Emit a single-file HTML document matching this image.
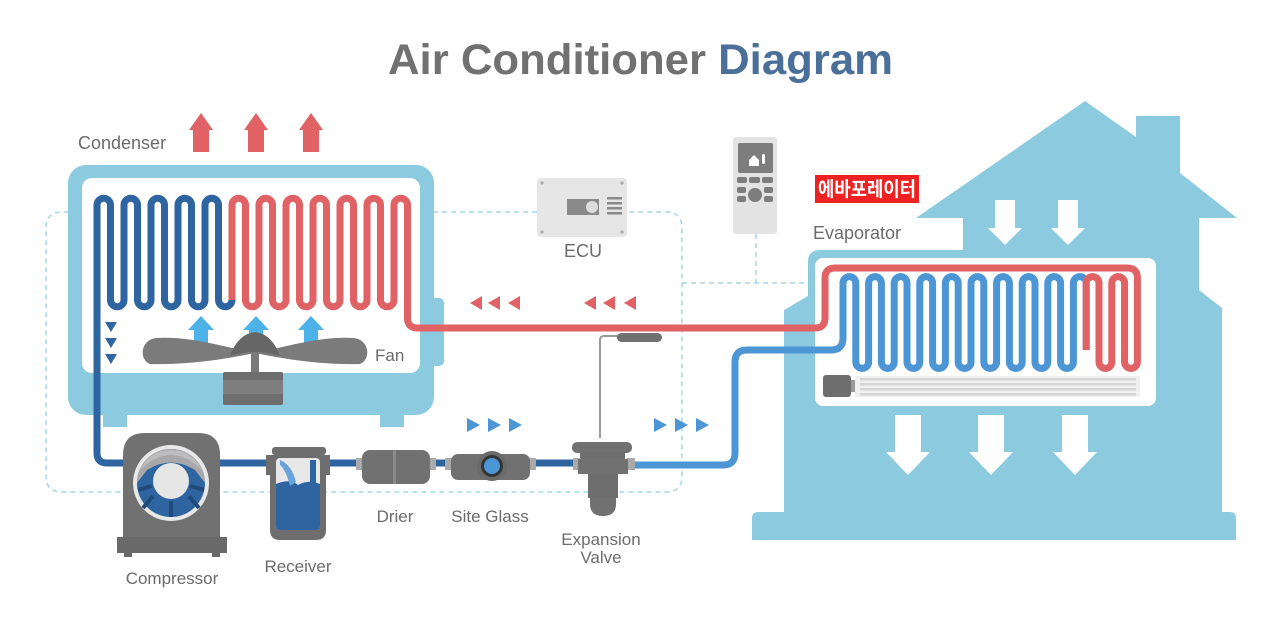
<!DOCTYPE html>
<html><head><meta charset="utf-8"><style>
html,body{margin:0;padding:0;background:#fff;}
svg{display:block;}
text{font-family:"Liberation Sans","Noto Sans CJK KR",sans-serif;}
</style></head><body>
<svg width="1280" height="640" viewBox="0 0 1280 640" xmlns="http://www.w3.org/2000/svg">
<rect width="1280" height="640" fill="#fff"/>
<!-- Title -->
<text x="388" y="74" font-size="43" font-weight="bold" fill="#717171" textLength="505" lengthAdjust="spacingAndGlyphs">Air Conditioner <tspan fill="#4a6f98">Diagram</tspan></text>

<!-- dashed control lines -->
<g fill="none" stroke="#a9d5e8" stroke-width="1.5" stroke-dasharray="5 4">
<path d="M537,212 H62 Q46,212 46,228 V476 Q46,492 62,492 H666 Q682,492 682,476 V228 Q682,212 666,212 H627"/>
<path d="M682,283 H815"/>
<path d="M756,234 V283"/>
</g>

<!-- House -->
<path fill="#8ccbdf" d="M752,540 V518 Q752,512 758,512 H784 V310 L808,296 V262 Q808,250 820,250 H963 V218 H916 L1085,101 L1136,137 V116 H1180 V173 L1237,218 H1199 V290 L1222,308 V512 H1230 Q1236,512 1236,518 V540 Z"/>
<rect x="815" y="258" width="341" height="148" rx="8" fill="#fff"/>
<!-- evaporator fan bar -->
<rect x="823" y="375" width="28" height="22" rx="3" fill="#6e6e6e"/>
<rect x="851" y="380" width="5" height="12" fill="#9a9a9a"/>
<rect x="855" y="376" width="285" height="21" fill="#f0f0f0"/>
<g fill="#d5d5d5"><rect x="860" y="378" width="276" height="2.5"/><rect x="860" y="383" width="276" height="2.5"/><rect x="860" y="388" width="276" height="2.5"/><rect x="860" y="393" width="276" height="2.5"/></g>
<!-- white arrows in house -->
<g fill="#fff">
<path d="M995,200 H1015 V228 H1022 L1005,245 L988,228 H995 Z"/>
<path d="M1058,200 H1078 V228 H1085 L1068,245 L1051,228 H1058 Z"/>
<path d="M895,415 H921 V452 H930 L908,475 L886,452 H895 Z"/>
<path d="M978,415 H1004 V452 H1013 L991,475 L969,452 H978 Z"/>
<path d="M1062,415 H1088 V452 H1097 L1075,475 L1053,452 H1062 Z"/>
</g>

<!-- Condenser unit -->
<rect x="380" y="405" width="24" height="22" fill="#8ccbdf"/>
<rect x="103" y="405" width="24" height="22" fill="#8ccbdf"/>
<rect x="420" y="298" width="24" height="68" rx="5" fill="#8ccbdf"/>
<rect x="68" y="165" width="366" height="250" rx="18" fill="#8ccbdf"/>
<rect x="82" y="178" width="338" height="195" rx="10" fill="#fff"/>

<!-- red up arrows -->
<g fill="#e06264">
<path d="M193,152 V130 H189 L201,113 L213,130 H209 V152 Z"/>
<path d="M248,152 V130 H244 L256,113 L268,130 H264 V152 Z"/>
<path d="M303,152 V130 H299 L311,113 L323,130 H319 V152 Z"/>
</g>

<!-- blue down triangles -->
<g fill="#2e65a0">
<path d="M105,322 H117 L111,332 Z"/><path d="M105,338 H117 L111,348 Z"/><path d="M105,354 H117 L111,364 Z"/>
</g>

<!-- fan up arrows -->
<g fill="#4db2e8">
<path d="M194,345 V330 H188 L201,316 L214,330 H208 V345 Z"/>
<path d="M249,345 V330 H243 L256,316 L269,330 H263 V345 Z"/>
<path d="M304,345 V330 H298 L311,316 L324,330 H318 V345 Z"/>
</g>
<!-- fan -->
<rect x="251" y="350" width="8" height="24" fill="#7a7a7a"/>
<path fill="#7b7b7b" d="M255,353 C220,346 190,336 156,338 C140,340 139,360 150,364 C190,365 225,359 255,353 Z"/>
<path fill="#7b7b7b" d="M255,353 C290,346 320,336 354,338 C370,340 371,360 360,364 C320,365 285,359 255,353 Z"/>
<path fill="#666" d="M230,356 Q238,334 255,332 Q272,334 280,356 Q255,348 230,356 Z"/>
<rect x="223" y="372" width="60" height="33" rx="2" fill="#6e6e6e"/>
<rect x="223" y="380" width="60" height="14" fill="#7f7f7f"/>

<!-- Pipes -->
<g fill="none" stroke-width="7" stroke-linejoin="round">
<path stroke="#2e65a0" d="M632,463 H107 q-10,0 -10,-10 V205 a6.75,6.75 0 0 1 13.5,0 V300 a6.75,6.75 0 0 0 13.5,0 V205 a6.75,6.75 0 0 1 13.5,0 V300 a6.75,6.75 0 0 0 13.5,0 V205 a6.75,6.75 0 0 1 13.5,0 V300 a6.75,6.75 0 0 0 13.5,0 V205 a6.75,6.75 0 0 1 13.5,0 V300 a6.75,6.75 0 0 0 13.5,0 V205 a6.75,6.75 0 0 1 13.5,0 V300 a6.75,6.75 0 0 0 13.5,0 V301"/>
<path stroke="#4d96d6" d="M630,465 H723 q12,0 12,-12 V362 q0,-12 12,-12 H831 q12,0 12,-12 V283 a6.4,6.4 0 0 1 12.8,0 V362 a6.4,6.4 0 0 0 12.8,0 V283 a6.4,6.4 0 0 1 12.8,0 V362 a6.4,6.4 0 0 0 12.8,0 V283 a6.4,6.4 0 0 1 12.8,0 V362 a6.4,6.4 0 0 0 12.8,0 V283 a6.4,6.4 0 0 1 12.8,0 V362 a6.4,6.4 0 0 0 12.8,0 V283 a6.4,6.4 0 0 1 12.8,0 V362 a6.4,6.4 0 0 0 12.8,0 V283 a6.4,6.4 0 0 1 12.8,0 V362 a6.4,6.4 0 0 0 12.8,0 V283 a6.4,6.4 0 0 1 12.8,0 V362 a6.4,6.4 0 0 0 12.8,0 V283 a6.4,6.4 0 0 1 12.8,0 V362 a6.4,6.4 0 0 0 12.8,0 V283 a6.4,6.4 0 0 1 12.8,0 V362 a6.4,6.4 0 0 0 12.8,0 V283 a6.4,6.4 0 0 1 12.8,0 V350"/>
<path stroke="#e06264" d="M232,300 V205 a6.75,6.75 0 0 1 13.5,0 V300 a6.75,6.75 0 0 0 13.5,0 V205 a6.75,6.75 0 0 1 13.5,0 V300 a6.75,6.75 0 0 0 13.5,0 V205 a6.75,6.75 0 0 1 13.5,0 V300 a6.75,6.75 0 0 0 13.5,0 V205 a6.75,6.75 0 0 1 13.5,0 V300 a6.75,6.75 0 0 0 13.5,0 V205 a6.75,6.75 0 0 1 13.5,0 V300 a6.75,6.75 0 0 0 13.5,0 V205 a6.75,6.75 0 0 1 13.5,0 V300 a6.75,6.75 0 0 0 13.5,0 V205 a6.75,6.75 0 0 1 13.5,0 V318 q0,10 10,10 H815 q10,0 10,-10 V278 q0,-10 10,-10 H1127.4 q10,0 10,10 V362 a6.4,6.4 0 0 1 -12.8,0 V283 a6.4,6.4 0 0 0 -12.8,0 V362 a6.4,6.4 0 0 1 -12.8,0 V283 a6.4,6.4 0 0 0 -12.8,0 V350"/>
</g>

<!-- flow arrows -->
<g fill="#e06264">
<path d="M470,303 L482,296 V310 Z"/><path d="M488,303 L500,296 V310 Z"/><path d="M508,303 L520,296 V310 Z"/>
<path d="M584,303 L596,296 V310 Z"/><path d="M603,303 L615,296 V310 Z"/><path d="M624,303 L636,296 V310 Z"/>
</g>
<g fill="#4d96d6">
<path d="M467,418 L480,425 L467,432 Z"/><path d="M488,418 L501,425 L488,432 Z"/><path d="M509,418 L522,425 L509,432 Z"/>
<path d="M654,418 L667,425 L654,432 Z"/><path d="M675,418 L688,425 L675,432 Z"/><path d="M696,418 L709,425 L696,432 Z"/>
</g>

<!-- Compressor -->
<path fill="#717171" d="M123,537 V455 Q123,433 145,433 H198 Q220,433 220,455 V537 Z"/>
<rect x="117" y="537" width="110" height="16" fill="#6a6a6a"/>
<rect x="124" y="553" width="8" height="4" fill="#6a6a6a"/><rect x="212" y="553" width="8" height="4" fill="#6a6a6a"/>
<circle cx="171" cy="483" r="38" fill="#e8e8e8"/>
<circle cx="171" cy="483" r="34" fill="#2e65a0"/>
<path d="M137,483 A34,34 0 0 1 205,483 L195,470 Q171,455 147,470 Z" fill="#a8a8a8"/>
<path d="M140,470 A34,34 0 0 1 202,470 Q171,440 140,470Z" fill="#bdbdbd"/>
<g stroke="#1f4a7a" stroke-width="4"><line x1="171" y1="501" x2="171" y2="517"/><line x1="153" y1="496" x2="143" y2="508"/><line x1="189" y1="496" x2="199" y2="508"/><line x1="152" y1="486" x2="138" y2="490"/><line x1="190" y1="486" x2="204" y2="490"/></g>
<circle cx="171" cy="481" r="18" fill="#e6e6e6"/>

<!-- Receiver -->
<rect x="272" y="447" width="54" height="8" rx="3" fill="#6e6e6e"/>
<rect x="266" y="455" width="64" height="20" fill="#6e6e6e"/>
<path fill="#6e6e6e" d="M270,455 H326 V530 Q326,540 316,540 H280 Q270,540 270,530 Z"/>
<rect x="276" y="458" width="44" height="72" rx="4" fill="#e8e8e8"/>
<path fill="#2e65a0" d="M276,484 Q290,478 298,485 Q308,479 320,484 V526 Q320,530 316,530 H280 Q276,530 276,526 Z"/>
<path fill="#6aa3d8" d="M280,460 Q292,465 296,482 L290,486 Q286,470 280,465 Z"/>
<rect x="310" y="460" width="6" height="26" fill="#2e65a0"/>

<!-- Drier -->
<rect x="356" y="458" width="8" height="12" fill="#aaa"/>
<rect x="428" y="458" width="8" height="12" fill="#aaa"/>
<rect x="362" y="450" width="68" height="34" rx="8" fill="#717171"/>
<rect x="393" y="450" width="3" height="34" fill="#8a8a8a"/>
<!-- Site glass -->
<rect x="445" y="458" width="8" height="12" fill="#aaa"/>
<rect x="528" y="458" width="8" height="12" fill="#aaa"/>
<rect x="451" y="454" width="79" height="26" rx="7" fill="#717171"/>
<circle cx="492" cy="466" r="15" fill="#6a6a6a"/>
<circle cx="492" cy="466" r="11" fill="#333"/>
<circle cx="492" cy="466" r="8" fill="#4d96d6"/>

<!-- Expansion valve -->
<path d="M600,438 V340 Q600,336 604,336 H620" fill="none" stroke="#9a9a9a" stroke-width="2"/>
<rect x="617" y="333" width="45" height="9" rx="4.5" fill="#717171"/>
<rect x="572" y="442" width="60" height="11" rx="5" fill="#717171"/>
<rect x="580" y="452" width="45" height="10" fill="#6e6e6e"/>
<rect x="573" y="458" width="8" height="12" fill="#aaa"/>
<rect x="627" y="458" width="8" height="12" fill="#aaa"/>
<rect x="578" y="459" width="50" height="15" fill="#717171"/>
<rect x="588" y="474" width="30" height="24" fill="#6e6e6e"/>
<path d="M590,498 H616 V504 Q616,516 603,516 Q590,516 590,504 Z" fill="#717171"/>

<!-- ECU -->
<rect x="537" y="178" width="90" height="59" rx="4" fill="#e6e6e6"/>
<g fill="#a9a9a9"><circle cx="542" cy="183" r="1.6"/><circle cx="622" cy="183" r="1.6"/><circle cx="542" cy="232" r="1.6"/><circle cx="622" cy="232" r="1.6"/></g>
<rect x="567" y="199" width="32" height="16" fill="#8a8a8a"/>
<circle cx="592" cy="207" r="6" fill="#ddd"/>
<g fill="#8a8a8a"><rect x="607" y="197" width="15" height="2.5"/><rect x="607" y="202" width="15" height="2.5"/><rect x="607" y="207" width="15" height="2.5"/><rect x="607" y="212" width="15" height="2.5"/></g>

<!-- Remote -->
<rect x="733" y="137" width="44" height="97" rx="3" fill="#e3e3e3"/>
<rect x="738" y="143" width="35" height="30" rx="2" fill="#7d7d7d"/>
<path d="M749,160 L754,155 L759,160 V166 H749 Z" fill="#fff"/>
<rect x="762" y="154" width="3" height="10" rx="1.5" fill="#fff"/>
<g fill="#7d7d7d"><rect x="737" y="177" width="10" height="6" rx="2"/><rect x="749" y="177" width="11" height="6" rx="2"/><rect x="762" y="177" width="11" height="6" rx="2"/>
<rect x="737" y="187" width="9" height="6" rx="2"/><rect x="764" y="187" width="9" height="6" rx="2"/><rect x="737" y="196" width="9" height="6" rx="2"/><rect x="764" y="196" width="9" height="6" rx="2"/><circle cx="755" cy="195" r="7"/></g>

<!-- Labels -->
<g fill="#6b6b6b" font-size="18">
<text x="78" y="149">Condenser</text>
<text x="375" y="361" font-size="17">Fan</text>
<text x="583" y="257" text-anchor="middle">ECU</text>
<text x="813" y="239">Evaporator</text>
<text x="172" y="584" font-size="17" text-anchor="middle">Compressor</text>
<text x="298" y="572" font-size="17" text-anchor="middle">Receiver</text>
<text x="395" y="522" font-size="17" text-anchor="middle">Drier</text>
<text x="490" y="522" font-size="17" text-anchor="middle">Site Glass</text>
<text x="601" y="545" font-size="17" text-anchor="middle">Expansion</text>
<text x="601" y="563" font-size="17" text-anchor="middle">Valve</text>
</g>
<rect x="815" y="175" width="104" height="28" fill="#ee2222"/>
<text x="867" y="196" text-anchor="middle" font-size="20" font-weight="bold" fill="#fff" textLength="98" lengthAdjust="spacingAndGlyphs">에바포레이터</text>
</svg>
</body></html>
